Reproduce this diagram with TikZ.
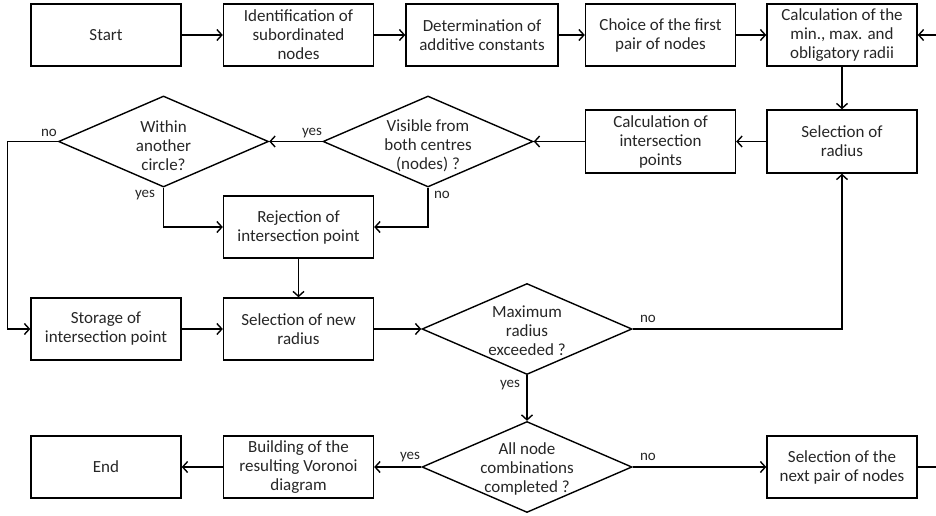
\documentclass[tikz,border=0pt]{standalone}
\usepackage{fontspec}
\setmainfont{Carlito}
\usetikzlibrary{shapes.geometric,arrows.meta}
\begin{document}
\begin{tikzpicture}[x=1pt,y=-1pt,
  every node/.style={font=\fontsize{17}{19}\selectfont, text=black!85},
  box/.style={draw=black, line width=1.4pt, minimum width=150pt, minimum height=62pt, inner sep=1pt, align=center},
  decision/.style={draw=black, line width=1.4pt, diamond, minimum width=210pt, minimum height=91pt, inner sep=0pt},
  dtext/.style={align=center, inner sep=0pt},
  conn/.style={draw=black, line width=1.4pt, -{Straight Barb[length=5pt,width=11pt,line width=1.4pt]}},
  lbl/.style={font=\fontsize{15}{17}\selectfont, inner sep=0pt}
]
\useasboundingbox (0,0) rectangle (936,516);
% row 1
\node[box] (start) at (106,35) {Start};
\node[box] (ident) at (298.5,35) {Identification of\\subordinated\\nodes};
\node[box, minimum width=152pt] (det) at (482,35) {Determination of\\additive constants};
\node[box] (choice) at (660.5,35) {Choice of the first\\pair of nodes};
\node[box] (calc) at (842,35) {Calculation of the\\min., max. and\\obligatory radii};
% row 2
\node[box, minimum height=63pt] (selrad) at (842,141.5) {Selection of\\radius};
\node[box, minimum height=63pt] (calcint) at (660.5,141.5) {Calculation of\\intersection\\points};
\node[decision] (vis) at (428,141.5) {};
\node[dtext] (vist) at (428,145.5) {Visible from\\both centres\\(nodes) ?};
\node[decision] (within) at (163.5,141.5) {};
\node[dtext] (withint) at (163.5,145.5) {Within\\another\\circle?};
\node[box] (rej) at (298.5,227) {Rejection of\\intersection point};
% row 3
\node[box] (storage) at (106,329) {Storage of\\intersection point};
\node[box] (selnew) at (298.5,329) {Selection of new\\radius};
\node[decision] (max) at (527,329) {};
\node[dtext] (maxt) at (527,331) {Maximum\\radius\\exceeded ?};
% row 4
\node[box] (end) at (106,467) {End};
\node[box] (build) at (298.5,467) {Building of the\\resulting Voronoi\\diagram};
\node[decision] (all) at (527,467) {};
\node[dtext] (allt) at (527,469) {All node\\combinations\\completed ?};
\node[box] (next) at (842,467) {Selection of the\\next pair of nodes};
% helper coordinates
\coordinate (lft) at (7.5,141.5);
\coordinate (rgt) at (950,467);
% connectors
\draw[conn] (start) -- (ident);
\draw[conn] (ident) -- (det);
\draw[conn] (det) -- (choice);
\draw[conn] (choice) -- (calc);
\draw[conn] (calc) -- (selrad);
\draw[conn] (selrad) -- (calcint);
\draw[conn] (calcint.west) -- (vis.east);
\draw[conn] (vis.west) -- (within.east);
\draw[conn] (within.west) -- (lft) |- (storage.west);
\draw[conn] (within.south) |- (rej.west);
\draw[conn] (vis.south) |- (rej.east);
\draw[conn] (rej) -- (selnew);
\draw[conn] (storage) -- (selnew);
\draw[conn] (selnew.east) -- (max.west);
\draw[conn] (max.east) -| (selrad.south);
\draw[conn] (max.south) -- (all.north);
\draw[conn] (all.west) -- (build.east);
\draw[conn] (build) -- (end);
\draw[conn] (all.east) -- (next.west);
\draw[conn] (next.east) -- (rgt) |- (calc.east);
% labels
\node[lbl] (l1) at (312,133) {yes};
\node[lbl] (l2) at (49,133) {no};
\node[lbl] (l3) at (145,195) {yes};
\node[lbl] (l4) at (442,195) {no};
\node[lbl] (l5) at (648,319) {no};
\node[lbl] (l6) at (510,385) {yes};
\node[lbl] (l7) at (410,457) {yes};
\node[lbl] (l8) at (648,457) {no};
\end{tikzpicture}
\end{document}
